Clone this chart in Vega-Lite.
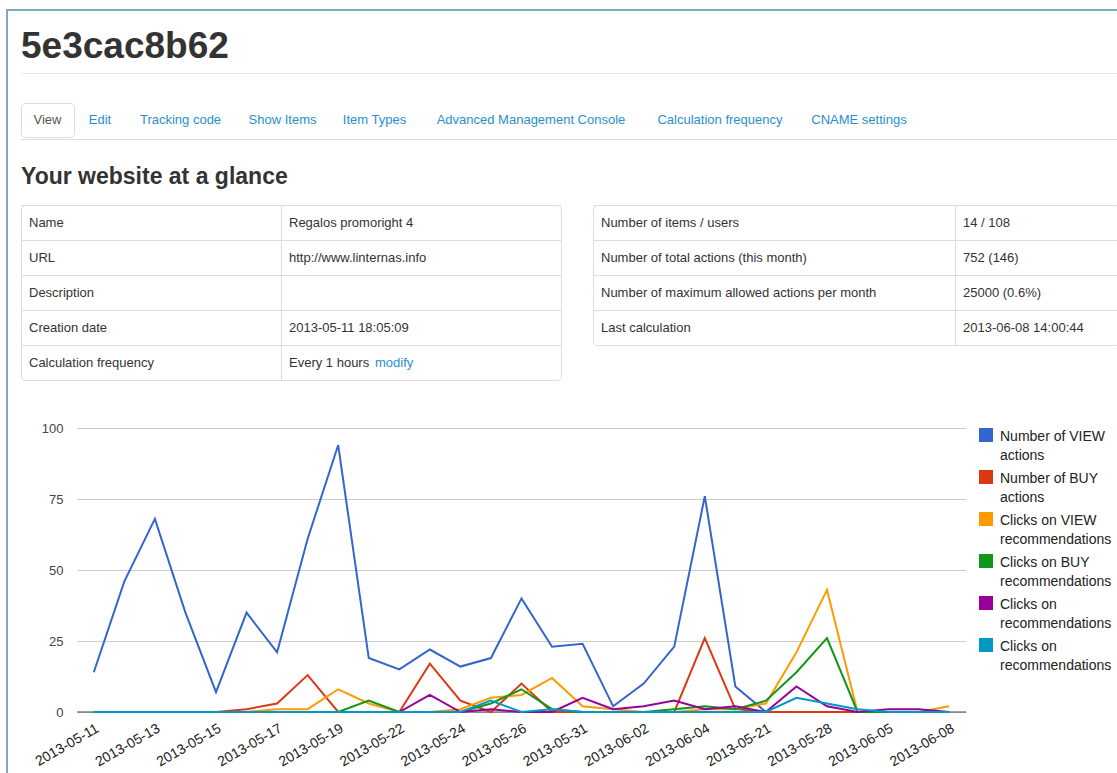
{
  "$schema": "https://vega.github.io/schema/vega-lite/v6.json",
  "padding": {"left": 6, "top": 9, "right": 0, "bottom": 0},
  "background": "white",
  "config": {
    "font": "Liberation Sans",
    "view": {"stroke": null},
    "title": {"font": "Liberation Sans", "color": "#333333", "anchor": "start", "fontWeight": "bold", "frame": "group"},
    "text": {"font": "Liberation Sans"}
  },
  "datasets": {
    "actions": [
      {"date": "2013-05-11", "v": 14, "b": 0, "cv": 0, "cb": 0, "c1": 0, "c2": 0},
      {"date": "2013-05-12", "v": 46, "b": 0, "cv": 0, "cb": 0, "c1": 0, "c2": 0},
      {"date": "2013-05-13", "v": 68, "b": 0, "cv": 0, "cb": 0, "c1": 0, "c2": 0},
      {"date": "2013-05-14", "v": 35, "b": 0, "cv": 0, "cb": 0, "c1": 0, "c2": 0},
      {"date": "2013-05-15", "v": 7, "b": 0, "cv": 0, "cb": 0, "c1": 0, "c2": 0},
      {"date": "2013-05-16", "v": 35, "b": 1, "cv": 0, "cb": 0, "c1": 0, "c2": 0},
      {"date": "2013-05-17", "v": 21, "b": 3, "cv": 1, "cb": 0, "c1": 0, "c2": 0},
      {"date": "2013-05-18", "v": 61, "b": 13, "cv": 1, "cb": 0, "c1": 0, "c2": 0},
      {"date": "2013-05-19", "v": 94, "b": 0, "cv": 8, "cb": 0, "c1": 0, "c2": 0},
      {"date": "2013-05-20", "v": 19, "b": 0, "cv": 3, "cb": 4, "c1": 0, "c2": 0},
      {"date": "2013-05-22", "v": 15, "b": 0, "cv": 0, "cb": 0, "c1": 0, "c2": 0},
      {"date": "2013-05-23", "v": 22, "b": 17, "cv": 0, "cb": 0, "c1": 6, "c2": 0},
      {"date": "2013-05-24", "v": 16, "b": 4, "cv": 1, "cb": 0, "c1": 0, "c2": 0},
      {"date": "2013-05-25", "v": 19, "b": 0, "cv": 5, "cb": 3, "c1": 1, "c2": 4},
      {"date": "2013-05-26", "v": 40, "b": 10, "cv": 6, "cb": 8, "c1": 0, "c2": 0},
      {"date": "2013-05-30", "v": 23, "b": 0, "cv": 12, "cb": 1, "c1": 0, "c2": 1},
      {"date": "2013-05-31", "v": 24, "b": 0, "cv": 2, "cb": 0, "c1": 5, "c2": 0},
      {"date": "2013-06-01", "v": 2, "b": 0, "cv": 1, "cb": 0, "c1": 1, "c2": 0},
      {"date": "2013-06-02", "v": 10, "b": 0, "cv": 0, "cb": 0, "c1": 2, "c2": 0},
      {"date": "2013-06-03", "v": 23, "b": 0, "cv": 0, "cb": 1, "c1": 4, "c2": 0},
      {"date": "2013-06-04", "v": 76, "b": 26, "cv": 1, "cb": 2, "c1": 1, "c2": 0},
      {"date": "2013-06-07", "v": 9, "b": 1, "cv": 1, "cb": 1, "c1": 2, "c2": 0},
      {"date": "2013-05-21", "v": 0, "b": 0, "cv": 3, "cb": 4, "c1": 0, "c2": 0},
      {"date": "2013-05-27", "v": 0, "b": 0, "cv": 21, "cb": 14, "c1": 9, "c2": 5},
      {"date": "2013-05-28", "v": 0, "b": 0, "cv": 43, "cb": 26, "c1": 2, "c2": 3},
      {"date": "2013-05-29", "v": 0, "b": 0, "cv": 0, "cb": 0, "c1": 0, "c2": 1},
      {"date": "2013-06-05", "v": 0, "b": 0, "cv": 0, "cb": 0, "c1": 1, "c2": 0},
      {"date": "2013-06-06", "v": 0, "b": 0, "cv": 0, "cb": 0, "c1": 1, "c2": 0},
      {"date": "2013-06-08", "v": 0, "b": 0, "cv": 2, "cb": 0, "c1": 0, "c2": 0}
    ],
    "t1": [
      {"label": "Name", "val": "Regalos promoright 4"},
      {"label": "URL", "val": "http://www.linternas.info"},
      {"label": "Description", "val": ""},
      {"label": "Creation date", "val": "2013-05-11 18:05:09"},
      {"label": "Calculation frequency", "val": "Every 1 hours", "link": "modify"}
    ],
    "t2": [
      {"label": "Number of items / users", "val": "14 / 108"},
      {"label": "Number of total actions (this month)", "val": "752 (146)"},
      {"label": "Number of maximum allowed actions per month", "val": "25000 (0.6%)"},
      {"label": "Last calculation", "val": "2013-06-08 14:00:44"}
    ]
  },
  "spacing": 0,
  "resolve": {"scale": {"color": "independent"}, "legend": {"color": "independent"}},
  "vconcat": [
    {"width": 1111, "height": 2, "data": {"values": []}, "mark": "point", "encoding": {}, "view": {"fill": "#7aaac0", "stroke": null}},
    {
      "spacing": 12,
      "resolve": {"scale": {"color": "independent"}, "legend": {"color": "independent"}},
      "hconcat": [
        {"width": 2, "height": 762, "data": {"values": []}, "mark": "point", "encoding": {}, "view": {"fill": "#7aaac0", "stroke": null}},
        {
          "spacing": 0,
          "resolve": {"scale": {"color": "independent"}, "legend": {"color": "independent"}},
          "vconcat": [
            {"width": 1097, "height": 16, "data": {"values": []}, "mark": "point", "encoding": {}},
            {"width": 1097, "height": 0.01, "data": {"values": []}, "mark": "point", "encoding": {},
             "view": {"stroke": "#e6e6e6"},
             "title": {"text": "5e3cac8b62", "fontSize": 37, "offset": 7}},
            {"width": 1097, "height": 28, "data": {"values": []}, "mark": "point", "encoding": {}},
            {
              "spacing": 0,
              "hconcat": [
                {"width": 53, "height": 34, "data": {"values": [{"tab": "View"}]}, "view": {"stroke": "#dddddd", "cornerRadius": 4},
                 "mark": {"type": "text", "fontSize": 13, "color": "#555555"}, "encoding": {"text": {"field": "tab"}}},
                {"width": 50, "height": 34, "data": {"values": [{"tab": "Edit"}]},
                 "mark": {"type": "text", "fontSize": 13, "color": "#2a8fd0"}, "encoding": {"text": {"field": "tab"}}},
                {"width": 111, "height": 34, "data": {"values": [{"tab": "Tracking code"}]},
                 "mark": {"type": "text", "fontSize": 13, "color": "#2a8fd0"}, "encoding": {"text": {"field": "tab"}}},
                {"width": 93, "height": 34, "data": {"values": [{"tab": "Show Items"}]},
                 "mark": {"type": "text", "fontSize": 13, "color": "#2a8fd0"}, "encoding": {"text": {"field": "tab"}}},
                {"width": 91, "height": 34, "data": {"values": [{"tab": "Item Types"}]},
                 "mark": {"type": "text", "fontSize": 13, "color": "#2a8fd0"}, "encoding": {"text": {"field": "tab"}}},
                {"width": 222, "height": 34, "data": {"values": [{"tab": "Advanced Management Console"}]},
                 "mark": {"type": "text", "fontSize": 13, "color": "#2a8fd0"}, "encoding": {"text": {"field": "tab"}}},
                {"width": 156, "height": 34, "data": {"values": [{"tab": "Calculation frequency"}]},
                 "mark": {"type": "text", "fontSize": 13, "color": "#2a8fd0"}, "encoding": {"text": {"field": "tab"}}},
                {"width": 122, "height": 34, "data": {"values": [{"tab": "CNAME settings"}]},
                 "mark": {"type": "text", "fontSize": 13, "color": "#2a8fd0"}, "encoding": {"text": {"field": "tab"}}}
              ]
            },
            {"width": 1097, "height": 0.01, "data": {"values": []}, "mark": "point", "encoding": {},
             "view": {"stroke": "#dddddd"},
             "title": {"text": "Your website at a glance", "orient": "bottom", "fontSize": 23, "offset": 27}},
            {"width": 1097, "height": 14, "data": {"values": []}, "mark": "point", "encoding": {}},
            {
              "spacing": 30,
              "hconcat": [
                {
                  "width": 540, "height": 175,
                  "data": {"name": "t1"},
                  "view": {"stroke": "#dddddd", "cornerRadius": 4},
                  "encoding": {
                    "y": {"field": "label", "type": "nominal", "sort": null,
                          "scale": {"type": "band", "paddingInner": 0, "paddingOuter": 0},
                          "axis": {"bandPosition": 0, "grid": true, "gridColor": "#dddddd", "labels": false, "ticks": false, "domain": false, "title": null}}
                  },
                  "layer": [
                    {
                      "transform": [{"fold": ["label", "val"], "as": ["col", "txt"]}],
                      "mark": {"type": "text", "align": "left", "dx": 8, "fontSize": 13, "color": "#333333"},
                      "encoding": {
                        "x": {"field": "col", "type": "nominal",
                              "scale": {"type": "point", "domain": ["label", "val"], "padding": 0.5385, "align": 0},
                              "axis": {"values": ["val"], "grid": true, "gridColor": "#dddddd", "labels": false, "ticks": false, "domain": false, "title": null}},
                        "text": {"field": "txt"}
                      }
                    },
                    {
                      "transform": [{"filter": "datum.link"}],
                      "mark": {"type": "text", "align": "left", "dx": 94, "fontSize": 13, "color": "#2a8fd0"},
                      "encoding": {
                        "x": {"datum": "val", "type": "nominal"},
                        "text": {"field": "link"}
                      }
                    }
                  ]
                },
                {
                  "width": 526, "height": 140,
                  "data": {"name": "t2"},
                  "view": {"stroke": "#dddddd", "cornerRadius": 4},
                  "transform": [{"fold": ["label", "val"], "as": ["col", "txt"]}],
                  "mark": {"type": "text", "align": "left", "dx": 8, "fontSize": 13, "color": "#333333"},
                  "encoding": {
                    "y": {"field": "label", "type": "nominal", "sort": null,
                          "scale": {"type": "band", "paddingInner": 0, "paddingOuter": 0},
                          "axis": {"bandPosition": 0, "grid": true, "gridColor": "#dddddd", "labels": false, "ticks": false, "domain": false, "title": null}},
                    "x": {"field": "col", "type": "nominal",
                          "scale": {"type": "point", "domain": ["label", "val"], "padding": 0.2265, "align": 0},
                          "axis": {"values": ["val"], "grid": true, "gridColor": "#dddddd", "labels": false, "ticks": false, "domain": false, "title": null}},
                    "text": {"field": "txt"}
                  }
                }
              ]
            },
            {"width": 1097, "height": 41, "data": {"values": []}, "mark": "point", "encoding": {}},
            {
              "spacing": 0,
              "resolve": {"scale": {"color": "independent"}, "legend": {"color": "independent"}},
              "hconcat": [
                {"width": 1, "height": 1, "data": {"values": []}, "mark": "point", "encoding": {}},
                {
                  "width": 889, "height": 284,
                  "layer": [
                    {
                      "data": {"values": [{}]},
                      "mark": {"type": "rule", "color": "#444444", "strokeWidth": 1},
                      "encoding": {"y": {"datum": 0, "type": "quantitative"}}
                    },
                    {
                      "data": {"name": "actions"},
                      "transform": [{"fold": ["v", "b", "cv", "cb", "c1", "c2"], "as": ["series", "count"]}],
                      "mark": {"type": "line", "strokeWidth": 2},
                      "encoding": {
                        "x": {"field": "date", "type": "ordinal", "sort": null,
                              "scale": {"type": "point", "padding": 0.55},
                              "axis": {"values": ["2013-05-11", "2013-05-13", "2013-05-15", "2013-05-17", "2013-05-19", "2013-05-22", "2013-05-24", "2013-05-26", "2013-05-31", "2013-06-02", "2013-06-04", "2013-05-21", "2013-05-28", "2013-06-05", "2013-06-08"],
                                       "labelAngle": -30, "labelAlign": "right", "labelBaseline": "top", "labelOffset": 0,
                                       "labelPadding": 9, "domain": false, "ticks": false, "grid": false, "title": null,
                                       "labelFontSize": 14, "labelColor": "#222222"}},
                        "y": {"field": "count", "type": "quantitative",
                              "scale": {"domain": [0, 100], "nice": false},
                              "axis": {"values": [0, 25, 50, 75, 100], "grid": true, "gridColor": "#cccccc", "domain": false, "ticks": false,
                                       "labelPadding": 14, "minExtent": 55, "title": null, "labelFontSize": 13, "labelColor": "#444444"}},
                        "color": {"field": "series", "type": "nominal",
                                  "scale": {"domain": ["v", "b", "cv", "cb", "c1", "c2"], "range": ["#3366cc", "#dc3912", "#ff9900", "#109618", "#990099", "#0099c6"]},
                                  "legend": {"title": null, "orient": "right", "offset": 13, "padding": 0,
                                             "symbolType": "square", "symbolSize": 49, "symbolStrokeWidth": 7, "symbolOpacity": 1,
                                             "labelFontSize": 14, "labelColor": "#222222",
                                             "labelLimit": 250, "labelOffset": 7, "labelBaseline": "top", "rowPadding": -4,
                                             "labelExpr": "datum.value == 'v' ? ['Number of VIEW', 'actions'] : datum.value == 'b' ? ['Number of BUY', 'actions'] : datum.value == 'cv' ? ['Clicks on VIEW', 'recommendations'] : datum.value == 'cb' ? ['Clicks on BUY', 'recommendations'] : ['Clicks on', 'recommendations']",
                                             "encode": {"labels": {"update": {"lineHeight": {"value": 19}, "dy": {"value": -5}}}}}}
                      }
                    }
                  ]
                }
              ]
            }
          ]
        }
      ]
    }
  ]
}
